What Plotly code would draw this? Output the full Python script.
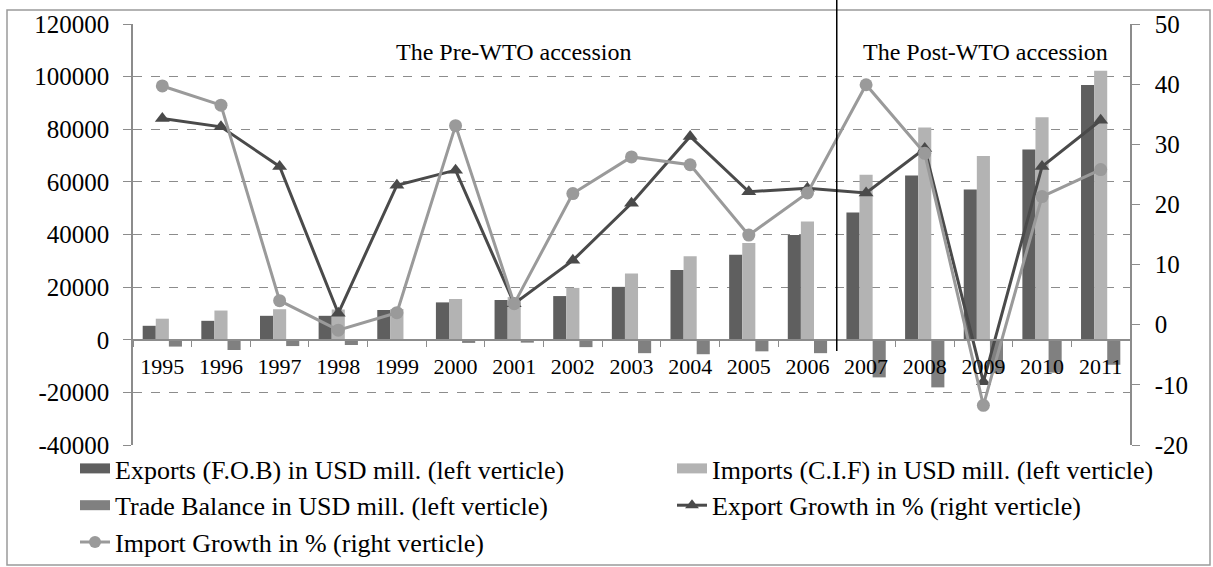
import plotly.graph_objects as go

years = ["1995","1996","1997","1998","1999","2000","2001","2002","2003","2004","2005","2006","2007","2008","2009","2010","2011"]
exports = [5300, 7200, 9100, 9100, 11300, 14200, 15100, 16600, 20100, 26500, 32300, 39800, 48400, 62400, 57100, 72300, 96800]
imports = [8000, 11100, 11600, 11500, 11700, 15500, 16200, 19700, 25200, 31700, 36800, 44900, 62700, 80700, 69800, 84600, 102200]
trade_balance = [-2600, -3900, -2400, -2000, -400, -1200, -1100, -2800, -5100, -5500, -4400, -5100, -14300, -18100, -12700, -12500, -9500]
export_growth = [34.3, 32.9, 26.3, 1.9, 23.2, 25.7, 3.5, 10.7, 20.2, 31.3, 22.1, 22.7, 21.9, 29.3, -9.5, 26.3, 34.0]
import_growth = [39.7, 36.5, 4.0, -0.9, 2.0, 33.1, 3.5, 21.8, 27.9, 26.6, 14.9, 21.9, 39.9, 28.5, -13.4, 21.3, 25.8]

left_ticks = [-40000, -20000, 0, 20000, 40000, 60000, 80000, 100000, 120000]
left_labels = ["-40000", "-20000", "0", "20000", "40000", "60000", "80000", "100000", "120000"]
right_ticks = [-20, -10, 0, 10, 20, 30, 40, 50]
right_labels = ["-20", "-10", "0", "10", "20", "30", "40", "50"]

names = ["Exports (F.O.B) in USD mill. (left verticle)",
         "Imports (C.I.F) in USD mill. (left verticle)",
         "Trade Balance in USD mill. (left verticle)",
         "Export Growth in % (right verticle)",
         "Import Growth in % (right verticle)"]

FONT = "Liberation Serif"
C_EXP, C_IMP, C_TB = "#5f5f5f", "#b3b3b3", "#808080"
C_EG, C_IG = "#4a4a4a", "#9a9a9a"

fig = go.Figure()
fig.add_trace(go.Bar(x=years, y=exports, name=names[0], showlegend=False,
                     marker=dict(color=C_EXP, line=dict(width=0))))
fig.add_trace(go.Bar(x=years, y=imports, name=names[1], showlegend=False,
                     marker=dict(color=C_IMP, line=dict(width=0))))
fig.add_trace(go.Bar(x=years, y=trade_balance, name=names[2], showlegend=False,
                     marker=dict(color=C_TB, line=dict(width=0))))
fig.add_trace(go.Scatter(x=years, y=export_growth, name=names[3], yaxis="y2", showlegend=False,
                         mode="lines+markers", line=dict(color=C_EG, width=3),
                         marker=dict(symbol="triangle-up", size=13, color=C_EG)))
fig.add_trace(go.Scatter(x=years, y=import_growth, name=names[4], yaxis="y2", showlegend=False,
                         mode="lines+markers", line=dict(color=C_IG, width=3),
                         marker=dict(symbol="circle", size=13, color=C_IG)))

# legend entries (wide swatches like the original), split into two columns
legend_specs = [
    (names[0], dict(mode="lines", line=dict(color=C_EXP, width=13)), "legend"),
    (names[2], dict(mode="lines", line=dict(color=C_TB, width=13)), "legend"),
    (names[4], dict(mode="lines+markers", line=dict(color=C_IG, width=3),
                    marker=dict(symbol="circle", size=12, color=C_IG)), "legend"),
    (names[1], dict(mode="lines", line=dict(color=C_IMP, width=13)), "legend2"),
    (names[3], dict(mode="lines+markers", line=dict(color=C_EG, width=3),
                    marker=dict(symbol="triangle-up", size=12, color=C_EG)), "legend2"),
]
for i, (nm, style, lg) in enumerate(legend_specs):
    fig.add_trace(go.Scatter(x=[None], y=[None], name=nm, legend=lg, legendgroup=f"g{i}",
                             showlegend=True, hoverinfo="skip", **style))

L, R, T, B = 133, 83, 24, 122
W, H = 1213, 567
pw, ph = W - L - R, H - T - B

def px(xpix):
    return (xpix - L) / pw

def py(ypix):
    return (H - B - ypix) / ph

legend_common = dict(orientation="v", xanchor="left", yanchor="top",
                     font=dict(family=FONT, size=26, color="black"),
                     traceorder="normal", itemwidth=30, tracegroupgap=2,
                     bgcolor="rgba(0,0,0,0)")

fig.update_layout(
    width=W, height=H,
    margin=dict(l=L, r=R, t=T, b=B, autoexpand=False),
    paper_bgcolor="white", plot_bgcolor="white",
    font=dict(family=FONT, size=22, color="black"),
    barmode="group", bargap=0.33, bargroupgap=0,
    xaxis=dict(type="category", range=[-0.5, 16.5], anchor="free", position=0.25,
               showline=True, linecolor="#8c8c8c", linewidth=1.5,
               ticks="outside", tickson="boundaries", ticklen=6, tickcolor="#8c8c8c",
               showgrid=False, tickfont=dict(family=FONT, size=22), ticklabelstandoff=7),
    yaxis=dict(range=[-40000, 120000], tickvals=left_ticks, ticktext=left_labels,
               showgrid=True, gridcolor="#8c8c8c",
               griddash="dash", gridwidth=1, zeroline=False,
               showline=True, linecolor="#8c8c8c", linewidth=1.5,
               ticks="outside", ticklen=8, tickcolor="#8c8c8c",
               tickfont=dict(family=FONT, size=25), ticklabelstandoff=9),
    yaxis2=dict(range=[-20, 50], tickvals=right_ticks, ticktext=right_labels,
                overlaying="y", side="right", showgrid=False,
                zeroline=False, showline=True, linecolor="#8c8c8c", linewidth=1.5,
                ticks="outside", ticklen=8, tickcolor="#8c8c8c",
                tickfont=dict(family=FONT, size=25), ticklabelstandoff=10),
    legend=dict(x=px(75), y=py(445), **legend_common),
    legend2=dict(x=px(672), y=py(445), **legend_common),
    showlegend=True,
)

fig.add_annotation(text="The Pre-WTO accession", xref="paper", yref="paper",
                   x=px(513), y=py(52), xanchor="center", yanchor="middle",
                   showarrow=False, font=dict(family=FONT, size=24))
fig.add_annotation(text="The Post-WTO accession", xref="paper", yref="paper",
                   x=px(985), y=py(52), xanchor="center", yanchor="middle",
                   showarrow=False, font=dict(family=FONT, size=24))

# divider between pre- and post-WTO periods
fig.add_shape(type="line", xref="x", yref="paper", x0=11.5, x1=11.5,
              y0=py(351), y1=py(0), line=dict(color="black", width=1.5))
# outer chart border
fig.add_shape(type="rect", xref="paper", yref="paper", x0=px(7), x1=px(1210),
              y0=py(565), y1=py(10), line=dict(color="#9a9a9a", width=1.5), layer="below")

fig.write_html("out.html", config={"displayModeBar": False},
               post_script="document.body.style.margin='0';document.body.style.overflow='hidden';")
